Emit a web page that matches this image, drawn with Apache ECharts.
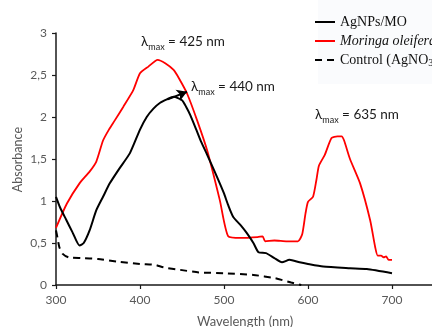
<!DOCTYPE html>
<html><head><meta charset="utf-8">
<script src="https://cdn.jsdelivr.net/npm/echarts@6/dist/echarts.min.js"></script>
<style>html,body{margin:0;padding:0;background:#fff}#c{width:432px;height:327px}</style>
</head><body><div id="c"></div>
<script>
// Data
const xTicks = [300, 400, 500, 600, 700];
const yTicks = ['0', '0,5', '1', '1,5', '2', '2,5', '3'];

const agnpWl = [300,305,312,320,328,333,340,348,356,364,375,388,400,408,416,424,432,440,450,455,460,467,473,480,488,495,500,505,511,520,527,535,541,550,560,569,578,590,600,618,650,670,700];
const agnpAbs = [1.05,0.92,0.78,0.62,0.47,0.50,0.65,0.89,1.05,1.21,1.38,1.57,1.85,2.00,2.10,2.17,2.21,2.24,2.20,2.12,2.02,1.85,1.70,1.55,1.37,1.21,1.09,0.95,0.81,0.71,0.62,0.50,0.39,0.38,0.32,0.27,0.30,0.27,0.25,0.22,0.20,0.19,0.14];

const moWl = [300,313,328,340,348,356,363,370,380,392,400,410,421,430,440,447,456,468,480,495,505,520,540,546,549,560,575,588,593,597,600,606,610,613,620,628,635,640,643,650,662,674,680,683,687,690,693,696,700];
const moAbs = [0.68,0.97,1.21,1.35,1.47,1.72,1.85,1.96,2.12,2.32,2.52,2.60,2.68,2.64,2.56,2.45,2.28,1.96,1.60,1.01,0.58,0.56,0.57,0.58,0.52,0.53,0.52,0.52,0.60,0.85,0.99,1.05,1.25,1.42,1.55,1.75,1.77,1.77,1.72,1.50,1.21,0.77,0.45,0.35,0.35,0.33,0.34,0.30,0.30];

const ctrlWl = [300,302,304,308,315,330,350,372,400,418,428,448,470,500,535,561,580,592];
const ctrlAbs = [0.65,0.55,0.45,0.37,0.33,0.32,0.31,0.28,0.25,0.24,0.21,0.18,0.15,0.14,0.12,0.08,0.03,0.00];

const arrowFrom = [433, 2.21];
const arrowTo = [456, 2.30];

const pairs = (xs, ys) => xs.map((x, i) => [x, ys[i]]);

const chart = echarts.init(document.getElementById('c'), null, {renderer: 'canvas'});
const lab = {fontFamily: 'Lato', fontSize: 12, color: '#595959'};
const ann = (t, x, y) => ({
  type: 'text', left: x, top: y,
  style: {
    text: '{a|λ}{s|max}{a| = ' + t + '}',
    rich: {
      a: {fontFamily: 'Lato', fontSize: 13.5, fill: '#1a1a1a', color: '#1a1a1a', verticalAlign: 'bottom', lineHeight: 17},
      s: {fontFamily: 'Lato', fontSize: 9, fill: '#1a1a1a', color: '#1a1a1a', verticalAlign: 'bottom', lineHeight: 12, padding: [0,0,-3,0]}
    }
  }
});

chart.setOption({
  animation: false,
  backgroundColor: '#fff',
  grid: {left: 56, top: 33, width: 420, height: 252, outerBoundsMode: 'none', containLabel: false},
  xAxis: {
    type: 'value', min: 300, max: 800, interval: 100,
    axisLine: {lineStyle: {color: '#1a1a1a', width: 1.5}},
    axisTick: {show: true, length: 4, lineStyle: {color: '#1a1a1a', width: 1.2}},
    splitLine: {show: false},
    axisLabel: Object.assign({margin: 9, formatter: v => xTicks.includes(v) ? String(v) : ''}, lab)
  },
  yAxis: {
    type: 'value', min: 0, max: 3, interval: 0.5,
    axisLine: {show: true, lineStyle: {color: '#1a1a1a', width: 1.5}},
    axisTick: {show: true, length: 4, lineStyle: {color: '#1a1a1a', width: 1.2}},
    splitLine: {show: false},
    axisLabel: Object.assign({margin: 9, formatter: v => yTicks[Math.round(v * 2)]}, lab)
  },
  legend: {
    orient: 'vertical', left: 309, top: 10, itemWidth: 20, itemHeight: 14, itemGap: 5,
    itemStyle: {opacity: 0},
    textStyle: {fontFamily: 'Liberation Serif', fontSize: 14, color: '#111',
      rich: {
        n: {fontFamily: 'Liberation Serif', fontSize: 14, color: '#111'},
        i: {fontFamily: 'Liberation Serif', fontSize: 14, fontStyle: 'italic', color: '#111'},
        sub: {fontFamily: 'Liberation Serif', fontSize: 10, color: '#111', padding: [7,0,0,0]}
      }},
    formatter: name => name === 'Moringa oleifera' ? '{i|Moringa oleifera}' :
      name === 'Control (AgNO3)' ? '{n|Control (AgNO}{sub|3}{n|)}' : '{n|' + name + '}',
    data: ['AgNPs/MO', 'Moringa oleifera', 'Control (AgNO3)']
  },
  series: [
    {name: 'AgNPs/MO', type: 'line', data: pairs(agnpWl, agnpAbs), symbol: 'none', smooth: 0.2,
     lineStyle: {color: '#000', width: 2}, itemStyle: {color: '#000'}, z: 3,
     markLine: {silent: true, symbol: ['none', 'arrow'], symbolSize: [9, 10], label: {show: false},
       lineStyle: {color: '#000', width: 2, type: 'solid'},
       data: [[{coord: arrowFrom}, {coord: arrowTo}]]}},
    {name: 'Moringa oleifera', type: 'line', data: pairs(moWl, moAbs), symbol: 'none', smooth: 0.2,
     lineStyle: {color: '#ff0000', width: 1.8}, itemStyle: {color: '#ff0000'}, z: 2},
    {name: 'Control (AgNO3)', type: 'line', data: pairs(ctrlWl, ctrlAbs), symbol: 'none', smooth: 0.2,
     lineStyle: {color: '#000', width: 2, type: [7, 5]}, itemStyle: {color: '#000'}, z: 3}
  ],
  graphic: [
    {type: 'rect', left: 318, top: 0, shape: {width: 114, height: 84}, style: {fill: '#fafbfd'}, z: -1, silent: true},
    ann('425 nm', 141, 35),
    ann('440 nm', 191, 80),
    ann('635 nm', 315, 108),
    {type: 'text', left: 11, top: 127, rotation: Math.PI / 2, style: {text: 'Absorbance', fontFamily: 'Lato', fontSize: 12.5, fill: '#595959'}},
    {type: 'text', left: 197, top: 315, style: {text: 'Wavelength (nm)', fontFamily: 'Lato', fontSize: 13, fill: '#595959'}}
  ]
});
</script></body></html>
